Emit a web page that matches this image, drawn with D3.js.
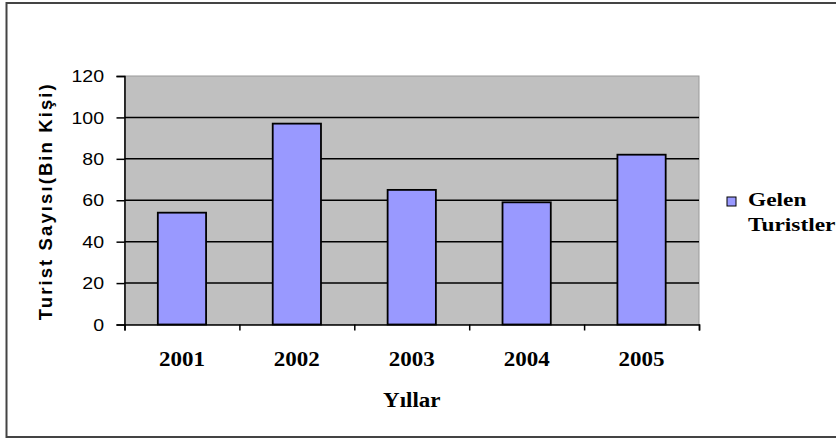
<!DOCTYPE html>
<html>
<head>
<meta charset="utf-8">
<script src="https://cdn.jsdelivr.net/npm/d3@7"></script>
<style>
  body { margin: 0; background: #fff; }
  svg { display: block; }
</style>
</head>
<body>
<div id="chart"></div>
<script>
const years = ["2001", "2002", "2003", "2004", "2005"];
const tourists = [54, 97, 65, 59, 82];
const yTicks = [0, 20, 40, 60, 80, 100, 120];
const seriesName = ["Gelen", "Turistler"];

const W = 836, H = 439;
const plot = {left: 124.5, right: 699, top: 76, bottom: 324.5};
const stretch = 1.15; // the original text is a bit wider than the font

const svg = d3.select("#chart").append("svg")
    .attr("width", W)
    .attr("height", H);

// outer frame (right edge runs off the picture)
svg.append("rect")
    .attr("x", 6.5).attr("y", 3)
    .attr("width", 850).attr("height", 434)
    .attr("fill", "#fff")
    .attr("stroke", "#444")
    .attr("stroke-width", 2);

const x = d3.scaleBand()
    .domain(years)
    .range([plot.left, plot.right])
    .paddingInner(0.58)
    .paddingOuter(0.29);

const y = d3.scaleLinear()
    .domain([0, 120])
    .range([plot.bottom, plot.top]);

// plot background
svg.append("rect")
    .attr("x", plot.left).attr("y", plot.top)
    .attr("width", plot.right - plot.left)
    .attr("height", plot.bottom - plot.top)
    .attr("fill", "#c0c0c0")
    .attr("stroke", "#9a9a9a")
    .attr("stroke-width", 1);

// gridlines
svg.append("g")
    .selectAll("line")
    .data(yTicks.filter(d => d > 0 && d < 120))
    .enter().append("line")
    .attr("x1", plot.left).attr("x2", plot.right)
    .attr("y1", d => y(d)).attr("y2", d => y(d))
    .attr("stroke", "#000")
    .attr("stroke-width", 1.5);

// bars
svg.append("g")
    .selectAll("rect")
    .data(tourists)
    .enter().append("rect")
    .attr("x", (d, i) => x(years[i]))
    .attr("y", d => y(d))
    .attr("width", x.bandwidth())
    .attr("height", d => y(0) - y(d))
    .attr("fill", "#9999ff")
    .attr("stroke", "#000")
    .attr("stroke-width", 1.8);

// y axis
const yAxis = svg.append("g")
    .attr("transform", `translate(${plot.left},0)`)
    .call(d3.axisLeft(y).tickValues(yTicks).tickSize(8).tickFormat(""));
yAxis.selectAll("line, path").attr("stroke", "#000").attr("stroke-width", 1.5);

svg.append("g")
    .selectAll("text")
    .data(yTicks)
    .enter().append("text")
    .attr("transform", d => `translate(104,${y(d)}) scale(${stretch},1)`)
    .attr("text-anchor", "end")
    .attr("dy", "0.36em")
    .attr("font-family", "Liberation Sans, Arial, sans-serif")
    .attr("font-size", 17)
    .attr("fill", "#000")
    .text(d => d);

// x axis: ticks sit between the categories
const xEdges = d3.scaleLinear().domain([0, years.length]).range([plot.left, plot.right]);
const xAxis = svg.append("g")
    .attr("transform", `translate(0,${plot.bottom})`)
    .call(d3.axisBottom(xEdges).ticks(years.length).tickSize(6).tickFormat(""));
xAxis.selectAll("line, path").attr("stroke", "#000").attr("stroke-width", 1.5);

svg.append("g")
    .selectAll("text")
    .data(years)
    .enter().append("text")
    .attr("transform", d => `translate(${x(d) + x.bandwidth() / 2},366) scale(${stretch},1)`)
    .attr("text-anchor", "middle")
    .attr("font-family", "Liberation Serif, Times New Roman, serif")
    .attr("font-weight", "bold")
    .attr("font-size", 20)
    .attr("fill", "#000")
    .text(d => d);

// axis titles
svg.append("text")
    .attr("transform", `translate(${(plot.left + plot.right) / 2},407) scale(${stretch},1)`)
    .attr("text-anchor", "middle")
    .attr("font-family", "Liberation Serif, Times New Roman, serif")
    .attr("font-weight", "bold")
    .attr("font-size", 20)
    .text("Yıllar");

svg.append("text")
    .attr("transform", `translate(52,${(plot.top + plot.bottom) / 2 + 2}) rotate(-90)`)
    .attr("text-anchor", "middle")
    .attr("font-family", "Liberation Sans, Arial, sans-serif")
    .attr("font-weight", "bold")
    .attr("font-size", 18.5)
    .attr("textLength", 236)
    .attr("lengthAdjust", "spacing")
    .text("Turist Sayısı(Bin Kişi)");

// legend
const legend = svg.append("g");
legend.append("rect")
    .attr("x", 727).attr("y", 197)
    .attr("width", 9).attr("height", 9)
    .attr("fill", "#9999ff")
    .attr("stroke", "#000")
    .attr("stroke-width", 1);
legend.selectAll("text")
    .data(seriesName)
    .enter().append("text")
    .attr("transform", (d, i) => `translate(748,${206 + i * 25}) scale(1.3,1)`)
    .attr("font-family", "Liberation Serif, Times New Roman, serif")
    .attr("font-weight", "bold")
    .attr("font-size", 18)
    .text(d => d);
</script>
</body>
</html>
